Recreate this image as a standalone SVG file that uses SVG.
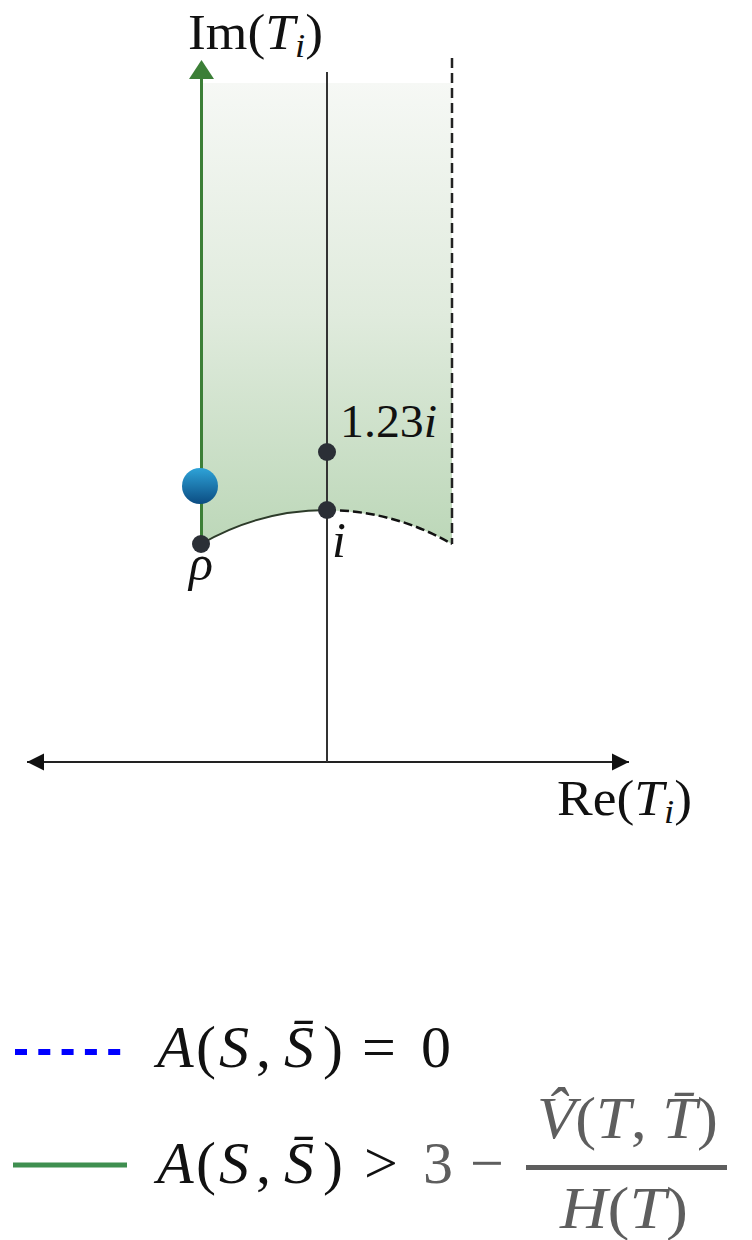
<svg xmlns="http://www.w3.org/2000/svg" width="752" height="1240" viewBox="0 0 752 1240">
<style>
text{font-family:"Liberation Serif","DejaVu Serif",serif;fill:#111}
.it{font-style:italic}
.n{font-style:normal}
.g{fill:#5e5e5e}
.dot{fill:#2b2f36}
</style>
<defs>
<linearGradient id="shade" gradientUnits="userSpaceOnUse" x1="0" y1="83" x2="0" y2="545">
<stop offset="0" stop-color="#f6f8f5"/>
<stop offset="0.5" stop-color="#e0ebdd"/>
<stop offset="1" stop-color="#bcd7b8"/>
</linearGradient>
<linearGradient id="ball" x1="0" y1="0" x2="0" y2="1">
<stop offset="0" stop-color="#2ea3d8"/>
<stop offset="1" stop-color="#0b4c82"/>
</linearGradient>
<marker id="ah" viewBox="0 0 10 10" refX="10" refY="5" markerWidth="17" markerHeight="20" markerUnits="userSpaceOnUse" orient="auto-start-reverse">
<path d="M0,0 L10,5 L0,10 z" fill="#111"/>
</marker>
</defs>
<g id="region">
<path d="M201,544 A252,252 0 0 1 452,544 L452,83 L201,83 Z" fill="url(#shade)"/>
</g>
<g id="connectors">
<line x1="27" y1="762" x2="629" y2="762" stroke="#222" stroke-width="2" marker-start="url(#ah)" marker-end="url(#ah)"/>
<line x1="327" y1="72" x2="327" y2="762" stroke="#333" stroke-width="2"/>
<line x1="452" y1="58" x2="452" y2="544" stroke="#222" stroke-width="2.5" stroke-dasharray="10,5"/>
<path d="M201,544 A252,252 0 0 1 327,510" fill="none" stroke="#2d3b2a" stroke-width="2"/>
<path d="M327,510 A252,252 0 0 1 452,544" fill="none" stroke="#111" stroke-width="2.5" stroke-dasharray="9,4"/>
<line x1="201.5" y1="545" x2="201.5" y2="76" stroke="#3c7f37" stroke-width="3"/>
<path d="M189,79 L201.5,60 L214,79 Z" fill="#3c7f37"/>
</g>
<g id="node-rho"><circle class="dot" cx="201" cy="544" r="9"/>
<text class="it" x="189" y="580" font-size="50">ρ</text></g>
<g id="node-i"><circle class="dot" cx="327" cy="510" r="9"/>
<text class="it" x="332" y="557" font-size="50">i</text></g>
<g id="node-123i"><circle class="dot" cx="327" cy="452" r="9"/>
<text x="340" y="437" font-size="46" textLength="97" lengthAdjust="spacingAndGlyphs">1.23<tspan class="it">i</tspan></text></g>
<g id="node-ball"><circle cx="200" cy="486" r="18" fill="url(#ball)"/></g>
<g id="label-im"><text x="188" y="49" font-size="50" textLength="135" lengthAdjust="spacingAndGlyphs">Im(<tspan class="it">T</tspan><tspan class="it" font-size="34" dy="8">i</tspan><tspan dy="-8">)</tspan></text></g>
<g id="label-re"><text x="557" y="815" font-size="50" textLength="135" lengthAdjust="spacingAndGlyphs">Re(<tspan class="it">T</tspan><tspan class="it" font-size="34" dy="8">i</tspan><tspan dy="-8">)</tspan></text></g>
<g id="legend">
<line x1="15" y1="1052" x2="122" y2="1052" stroke="#0000ff" stroke-width="6" stroke-dasharray="12,11.3"/>
<text y="1067" font-size="60"><tspan class="it" x="157">A</tspan><tspan x="196">(</tspan><tspan class="it" x="219">S</tspan><tspan x="256">,</tspan><tspan class="it" x="284">S̄</tspan><tspan x="323">)</tspan><tspan x="362">=</tspan><tspan x="421">0</tspan></text>
<line x1="13" y1="1165" x2="127" y2="1165" stroke="#3f8f50" stroke-width="5"/>
<text y="1183" font-size="60"><tspan class="it" x="157">A</tspan><tspan x="196">(</tspan><tspan class="it" x="219">S</tspan><tspan x="256">,</tspan><tspan class="it" x="284">S̄</tspan><tspan x="323">)</tspan><tspan x="364">&gt;</tspan><tspan class="g" x="423">3</tspan><tspan class="g" x="470">−</tspan></text>
<rect x="526" y="1165" width="201" height="5" fill="#5e5e5e"/>
<text class="g it" x="537" y="1138" font-size="60" textLength="181" lengthAdjust="spacingAndGlyphs">V̂<tspan class="n">(</tspan>T<tspan class="n">, </tspan>T̄<tspan class="n">)</tspan></text>
<text class="g it" x="560" y="1228" font-size="60" textLength="128" lengthAdjust="spacingAndGlyphs">H<tspan class="n">(</tspan>T<tspan class="n">)</tspan></text>
</g>
</svg>
